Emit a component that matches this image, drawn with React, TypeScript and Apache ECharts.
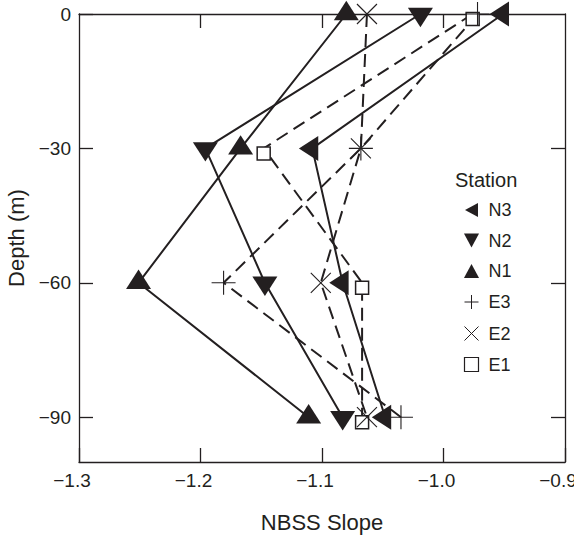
import React, { useEffect, useRef } from "react";
import * as echarts from "echarts";

const depths = [0, -30, -60, -90];
const stationNames = ["N3", "N2", "N1", "E3", "E2", "E1"];
const N3 = [-0.951, -1.108, -1.083, -1.048];
const N2 = [-1.019, -1.196, -1.147, -1.083];
const N1 = [-1.08, -1.167, -1.251, -1.111];
const E3 = [-0.972, -1.068, -1.181, -1.035];
const E2 = [-1.063, -1.068, -1.101, -1.063];
const E1 = [-0.976, -1.148, -1.067, -1.067];
const xTicks = [-1.3, -1.2, -1.1, -1.0, -0.9];
const yTicks = [0, -30, -60, -90];

const INK = "#231f20";
const FONT = "'Liberation Sans', Arial, Helvetica, sans-serif";

const sym = {
  left: "path://M0,12.5L22,0L22,25Z",
  down: "path://M0,0L25,0L12.5,22Z",
  up: "path://M0,22L12.5,0L25,22Z",
  plus: "path://M0,12L24,12M12,0L12,24",
  cross: "path://M0,0L20,20M20,0L0,20",
  square: "path://M0,0L13,0L13,13L0,13Z",
};

const minus = (s: string) => s.replace("-", "\u2212");

export default function App() {
  const ref = useRef<HTMLDivElement>(null);
  useEffect(() => {
    if (!ref.current) return;
    const chart = echarts.init(ref.current, null, { renderer: "svg" });
    const pts = (xs: number[]) => xs.map((x, i) => [x, depths[i]]);
    const solid = { color: INK, width: 2, type: "solid" as const };
    const dashed = { color: INK, width: 2, type: [13, 7] };
    const filled = { color: INK, borderWidth: 0 };
    const open = { color: "none", borderColor: INK, borderWidth: 1.1 };
    const openSq = { color: "#fff", borderColor: INK, borderWidth: 1.5 };
    const mk = (name: string, data: number[], symbol: string, size: any, ls: any, is: any, off: any) => ({
      name,
      type: "line",
      data: pts(data),
      symbol,
      symbolSize: size,
      symbolOffset: off,
      symbolKeepAspect: true,
      showSymbol: true,
      lineStyle: ls,
      itemStyle: is,
      emphasis: { disabled: true },
      xAxisIndex: 0,
      yAxisIndex: 0,
      z: 3,
    });
    const series = [
      mk("E1", E1, sym.square, [13, 13], dashed, openSq, [0, 5]),
      mk("E2", E2, sym.cross, [20, 20], dashed, open, [0, 0]),
      mk("E3", E3, sym.plus, [24, 24], dashed, open, [0, 0]),
      mk("N1", N1, sym.up, [25, 22], solid, filled, [0, -3.5]),
      mk("N2", N2, sym.down, [25, 22], solid, filled, [0, 3.5]),
      mk("N3", N3, sym.left, [22, 25], solid, filled, [-3.7, 0]),
    ];
    const legendIcons: Record<string, string> = {
      N3: "path://M0,7L13,0L13,14Z",
      N2: "path://M0,0L14,0L7,13Z",
      N1: "path://M0,13L7,0L14,13Z",
      E3: "path://M0,8L16,8M8,0L8,16",
      E2: "path://M0,0L12,12M12,0L0,12",
      E1: "path://M0,0L12,0L12,12L0,12Z",
    };
    const legendStyles: Record<string, any> = {
      N3: filled, N2: filled, N1: filled,
      E3: { color: "none", borderColor: INK, borderWidth: 1 },
      E2: { color: "none", borderColor: INK, borderWidth: 1 },
      E1: { color: "#fff", borderColor: INK, borderWidth: 1.2 },
    };
    const axisFont = { color: INK, fontSize: 19, fontFamily: FONT };
    chart.setOption({
      animation: false,
      grid: { left: 79, right: 9, top: 14, bottom: 78, outerBoundsMode: "none", containLabel: false },
      xAxis: [
        {
          type: "value",
          position: "bottom",
          min: -1.3,
          max: -0.9,
          interval: 0.1,
          name: "NBSS Slope",
          nameLocation: "middle",
          nameGap: 49,
          nameTextStyle: { color: INK, fontSize: 22, fontFamily: FONT },
          axisLine: { show: true, onZero: false, lineStyle: { color: INK, width: 1.3 } },
          axisTick: { show: true, inside: true, length: 14, customValues: xTicks, lineStyle: { color: INK, width: 1.3 } },
          axisLabel: {
            ...axisFont,
            margin: 9,
            padding: [0, 14, 0, 0],
            customValues: xTicks,
            formatter: (v: number) => minus(v.toFixed(1)),
          },
          splitLine: { show: false },
        },
        {
          type: "value",
          position: "top",
          min: -1.3,
          max: -0.9,
          interval: 0.1,
          axisLine: { show: true, onZero: false, lineStyle: { color: INK, width: 1.3 } },
          axisTick: { show: true, inside: true, length: 14, customValues: [-1.2, -1.1, -1.0], lineStyle: { color: INK, width: 1.3 } },
          axisLabel: { show: false },
          splitLine: { show: false },
        },
      ],
      yAxis: [
        {
          type: "value",
          position: "left",
          min: -100,
          max: 0,
          name: "Depth (m)",
          nameLocation: "middle",
          nameGap: 52,
          nameTextStyle: { color: INK, fontSize: 22, fontFamily: FONT },
          axisLine: { show: true, onZero: false, lineStyle: { color: INK, width: 1.3 } },
          axisTick: { show: true, inside: true, length: 14, customValues: yTicks, lineStyle: { color: INK, width: 1.3 } },
          axisLabel: {
            ...axisFont,
            margin: 8,
            customValues: yTicks,
            formatter: (v: number) => minus(String(v)),
          },
          splitLine: { show: false },
        },
        {
          type: "value",
          position: "right",
          min: -100,
          max: 0,
          axisLine: { show: true, onZero: false, lineStyle: { color: INK, width: 1.3 } },
          axisTick: { show: true, inside: true, length: 14, customValues: [-30, -60, -90], lineStyle: { color: INK, width: 1.3 } },
          axisLabel: { show: false },
          splitLine: { show: false },
        },
      ],
      legend: {
        orient: "vertical",
        left: 457,
        top: 196,
        itemWidth: 24,
        itemHeight: 14,
        itemGap: 12.5,
        selectedMode: false,
        textStyle: { color: INK, fontSize: 18, fontFamily: FONT, padding: [0, 0, 0, 0] },
        data: stationNames.map((n) => ({ name: n, icon: legendIcons[n], itemStyle: legendStyles[n] })),
      },
      graphic: [
        {
          type: "text",
          left: 455,
          top: 170,
          style: { text: "Station", fill: INK, font: `20px ${FONT}` },
        },
      ],
      series,
    });
    return () => chart.dispose();
  }, []);
  return <div ref={ref} style={{ position: "absolute", left: 0, top: 0, width: 574, height: 540 }} />;
}
